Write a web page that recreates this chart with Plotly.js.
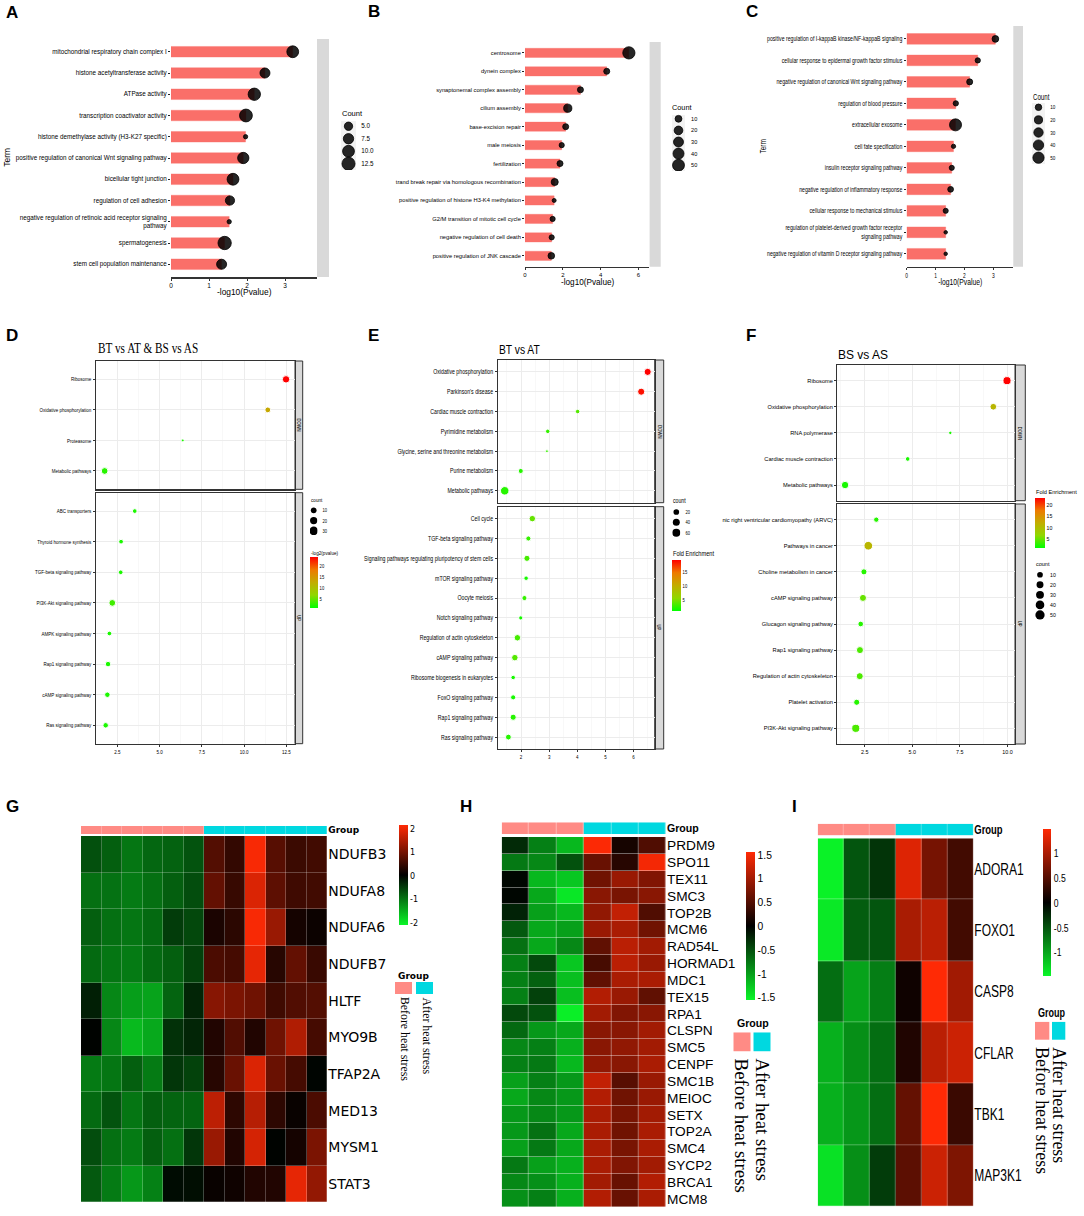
<!DOCTYPE html>
<html>
<head>
<meta charset="utf-8">
<script src="https://cdn.plot.ly/plotly-3.0.1.min.js"></script>
<style>body { margin: 0; background: #fff; }</style>
</head>
<body>
<div id="chart" style="width:1084px;height:1216px"></div>
<script>
// A: GO terms
const termsA = ['mitochondrial respiratory chain complex I', 'histone acetyltransferase activity', 'ATPase activity', 'transcription coactivator activity', 'histone demethylase activity (H3-K27 specific)', 'positive regulation of canonical Wnt signaling pathway', 'bicellular tight junction', 'regulation of cell adhesion', 'negative regulation of retinoic acid receptor signaling<br>pathway', 'spermatogenesis', 'stem cell population maintenance']
const pvalA = [3.2, 2.47, 2.19, 1.97, 1.96, 1.9, 1.63, 1.55, 1.53, 1.41, 1.33]
const countA = [10, 7, 11, 12, 3, 9, 10, 6, 3, 13, 7]
const legendA = [5, 7.5, 10, 12.5]

// B
const termsB = ['centrosome', 'dynein complex', 'synaptonemal complex assembly', 'cilium assembly', 'base-excision repair', 'male meiosis', 'fertilization', 'trand break repair via homologous recombination', 'positive regulation of histone H3-K4 methylation', 'G2/M transition of mitotic cell cycle', 'negative regulation of cell death', 'positive regulation of JNK cascade']
const pvalB = [5.49, 4.32, 2.93, 2.26, 2.15, 1.94, 1.85, 1.57, 1.54, 1.46, 1.41, 1.39]
const countB = [54, 7, 7, 17, 7, 5, 7, 11, 4, 5, 5, 9]
const legendB = [10, 20, 30, 40, 50]

// C
const termsC = ['positive regulation of I-kappaB kinase/NF-kappaB signaling', 'cellular response to epidermal growth factor stimulus', 'negative regulation of canonical Wnt signaling pathway', 'regulation of blood pressure', 'extracellular exosome', 'cell fate specification', 'insulin receptor signaling pathway', 'negative regulation of inflammatory response', 'cellular response to mechanical stimulus', 'regulation of platelet-derived growth factor receptor<br>signaling pathway', 'negative regulation of vitamin D receptor signaling pathway']
const pvalC = [3.07, 2.46, 2.18, 1.7, 1.69, 1.62, 1.56, 1.52, 1.35, 1.35, 1.35]
const countC = [11, 5.5, 8, 5.5, 60, 3.5, 5, 7, 5, 3, 3]
const legendC = [10, 20, 30, 40, 50]

// D: KEGG dot plots
const downTermsD = ['Ribosome', 'Oxidative phosphorylation', 'Proteasome', 'Metabolic pathways']
const downXD = [12.48, 11.4, 6.37, 1.75]
const downCountD = [21, 10.5, 3, 16]
const downColorD = [24, 13, 2, 2.5]
const upTermsD = ['ABC transporters', 'Thyroid hormone synthesis', 'TGF-beta signaling pathway', 'PI3K-Akt signaling pathway', 'AMPK signaling pathway', 'Rap1 signaling pathway', 'cAMP signaling pathway', 'Ras signaling pathway']
const upXD = [3.53, 2.72, 2.7, 2.2, 2.03, 1.95, 1.91, 1.81]
const upCountD = [6, 6, 6, 16, 6, 9, 9, 9]
const upColorD = [2, 2, 2, 3.5, 2, 2, 2, 2]
const legendD = [10, 20, 30]

// E
const downTermsE = ['Oxidative phosphorylation', "Parkinson's disease", 'Cardiac muscle contraction', 'Pyrimidine metabolism', 'Glycine, serine and threonine metabolism', 'Purine metabolism', 'Metabolic pathways']
const downXE = [6.5, 6.27, 4.01, 2.95, 2.92, 1.99, 1.42]
const downCountE = [42, 42, 9, 9, 3, 14, 70]
const downColorE = [19.6, 19, 4, 3, 3, 2.5, 2.5]
const upTermsE = ['Cell cycle', 'TGF-beta signaling pathway', 'Signaling pathways regulating pluripotency of stem cells', 'mTOR signaling pathway', 'Oocyte meiosis', 'Notch signaling pathway', 'Regulation of actin cytoskeleton', 'cAMP signaling pathway', 'Ribosome biogenesis in eukaryotes', 'FoxO signaling pathway', 'Rap1 signaling pathway', 'Ras signaling pathway']
const upXE = [2.4, 2.26, 2.21, 2.18, 2.12, 1.99, 1.87, 1.78, 1.72, 1.72, 1.72, 1.55]
const upCountE = [31, 14, 26, 9, 14, 7, 31, 31, 9, 14, 26, 22]
const upColorE = [4.5, 3, 3.5, 2, 3, 2, 3.5, 4, 2, 2, 2.5, 2.5]
const legendE = [20, 40, 60]

// F
const downTermsF = ['Ribosome', 'Oxidative phosphorylation', 'RNA polymerase', 'Cardiac muscle contraction', 'Metabolic pathways']
const downXF = [9.98, 9.26, 7, 4.76, 1.47]
const downCountF = [33, 18, 3, 5, 25]
const downColorF = [23, 11, 2, 2, 2]
const upTermsF = ['nic right ventricular cardiomyopathy (ARVC)', 'Pathways in cancer', 'Choline metabolism in cancer', 'cAMP signaling pathway', 'Glucagon signaling pathway', 'Rap1 signaling pathway', 'Regulation of actin cytoskeleton', 'Platelet activation', 'PI3K-Akt signaling pathway']
const upXF = [3.11, 2.69, 2.46, 2.41, 2.29, 2.25, 2.24, 2.08, 2.03]
const upCountF = [8, 41, 13, 21, 10, 21, 21, 13, 33]
const upColorF = [2.5, 11, 2.5, 5, 2.5, 4, 4, 2.5, 4]
const legendF = [10, 20, 30, 40, 50]

// G-I: heatmaps
const genesG = ['NDUFB3', 'NDUFA8', 'NDUFA6', 'NDUFB7', 'HLTF', 'MYO9B', 'TFAP2A', 'MED13', 'MYSM1', 'STAT3']
const groupG = [0, 0, 0, 0, 0, 0, 1, 1, 1, 1, 1, 1]
const heatG = [
    [-.67, -.8, -1, -.87, -.83, -.7, .72, .45, 2.1, .75, .52, .57],
    [-.95, -.97, -1.05, -.95, -.8, -.65, .85, .48, 1.85, .8, .55, .57],
    [-.8, -.95, -1, -.9, -.5, -.6, .25, .38, 2.1, 1.3, .2, .12],
    [-.9, -1, -1.05, -.9, -.8, -.55, .65, .6, 1.95, .35, .85, .5],
    [-.25, -1.15, -1.35, -1.4, -.85, -.3, 1.15, 1.05, .95, .55, .7, .72],
    [0, -1.15, -1.6, -1.45, -.4, -.3, .3, .7, .3, .95, 1.5, .6],
    [-1.05, -1, -.8, -1.05, -.45, -.55, .35, .9, 1.85, .9, .6, -.02],
    [-.9, -.7, -1, -.8, -.85, -.85, 1.6, .4, 1.55, .4, .1, .65],
    [-.65, -.95, -1.05, -.8, -.95, -.45, 1.3, .3, 1.8, 0, .2, 1.05],
    [-.75, -1.05, -1.3, -1.1, -.08, -.1, .1, .15, .3, .3, 1.95, 1.25]
]
const genesH = ['PRDM9', 'SPO11', 'TEX11', 'SMC3', 'TOP2B', 'MCM6', 'RAD54L', 'HORMAD1', 'MDC1', 'TEX15', 'RPA1', 'CLSPN', 'SMC5', 'CENPF', 'SMC1B', 'MEIOC', 'SETX', 'TOP2A', 'SMC4', 'SYCP2', 'BRCA1', 'MCM8']
const groupH = [0, 0, 0, 1, 1, 1]
const heatH = [
    [-.25, -.8, -1.15, 1.55, .15, .5],
    [-.75, -.85, -.5, .65, .25, 1.5],
    [-.03, -1.15, -1.25, .7, .95, .8],
    [-.02, -1.05, -1.45, .85, .75, .85],
    [-.2, -1, -1.15, .9, 1.2, .5],
    [-.55, -1.05, -1, .95, 1.05, .7],
    [-.7, -1.05, -.85, .6, 1.15, 1],
    [-.8, -.45, -1.25, .45, 1.15, .95],
    [-.8, -.6, -1.2, .6, 1.05, 1.05],
    [-.8, -.4, -1.2, 1.1, .95, .6],
    [-.45, -.5, -1.5, 1, .8, .85],
    [-.65, -.95, -1.05, .85, .85, 1],
    [-.85, -.8, -1.1, .85, .9, 1],
    [-.8, -.75, -1.15, .9, .85, 1.05],
    [-1, -.8, -.95, 1.2, .55, .95],
    [-1.05, -.85, -.95, 1.1, .7, .95],
    [-.95, -.85, -.95, 1.05, .75, 1],
    [-.95, -.7, -1.05, 1.05, .7, 1.05],
    [-1, -.75, -1.05, 1.05, .75, 1.05],
    [-.75, -1, -1.1, 1.05, .8, 1],
    [-.85, -.9, -1.1, 1, .65, 1.1],
    [-.9, -.8, -1.1, 1.1, .65, 1.05]
]
const genesI = ['ADORA1', 'FOXO1', 'CASP8', 'CFLAR', 'TBK1', 'MAP3K1']
const groupI = [0, 0, 0, 1, 1, 1]
const heatI = [
    [-1.45, -.5, -.3, 1.3, .7, .4],
    [-1.4, -.55, -.5, 1, 1.1, .4],
    [-.65, -.97, -.75, .1, 1.5, .95],
    [-1.05, -.85, -.65, .2, 1.1, 1.2],
    [-1.05, -.9, -.65, .6, 1.5, .35],
    [-1.35, -.85, -.35, .55, 1.2, .75]
]

const W = 1084, H = 1216
const SANS = '"Liberation Sans", Arial, sans-serif'
// no narrow face is installed: "Squeezed" is only a tag, squeezeText() below condenses these labels
const NARROW = '"Squeezed", "Liberation Sans", sans-serif'
const NARROW_SERIF = '"Squeezed", "Liberation Serif", serif'
const SERIF = '"Liberation Serif", "Times New Roman", serif'
const TEXT = '#000'
const GREEN_RED = [[0, '#00ff00'], [.25, '#8fd800'], [.5, '#c2ad00'], [.75, '#ee7a00'], [1, '#ff0000']]
const HEAT_SCALE = [[0, 'rgb(10,245,40)'], [.5, 'rgb(0,0,0)'], [1, 'rgb(255,42,5)']]
const GROUP_SCALE = [[0, '#ff8b85'], [1, '#00d8e0']]

let data = []
let layout = {
    width: W, height: H, autosize: false, showlegend: false,
    margin: { l: 0, r: 0, t: 0, b: 0, pad: 0 },
    paper_bgcolor: '#fff', plot_bgcolor: 'rgba(0,0,0,0)',
    annotations: [], shapes: []
}
let axisCount = 0

// allocates a subplot at a pixel box, returns its axis refs
function subplot(x0, x1, y0, y1, xa, ya) {
    axisCount++
    const n = axisCount === 1 ? '' : axisCount
    layout['xaxis' + n] = Object.assign({ domain: [x0 / W, x1 / W], anchor: 'y' + n, fixedrange: true, zeroline: false, showgrid: false }, xa)
    layout['yaxis' + n] = Object.assign({ domain: [1 - y1 / H, 1 - y0 / H], anchor: 'x' + n, fixedrange: true, zeroline: false, showgrid: false }, ya)
    return { xaxis: 'x' + n, yaxis: 'y' + n }
}

function txt(x, y, text, o) {
    // left aligned squeezed annotations need their start restored after squeezing
    let family = o.family || SANS
    if (family.includes('Squeezed') && !(o.extra && o.extra.xanchor)) family = family.replace('"Squeezed"', '"Squeezed Left"')
    layout.annotations.push(Object.assign({
        x: x / W, y: 1 - y / H, xref: 'paper', yref: 'paper', text: text, showarrow: false,
        xanchor: 'left', yanchor: 'middle', borderpad: 0,
        font: { family: family, size: o.size, color: o.color || TEXT }
    }, o.extra || {}))
}

function rect(x0, x1, y0, y1, fill, line) {
    layout.shapes.push({
        type: 'rect', xref: 'paper', yref: 'paper', layer: 'below',
        x0: x0 / W, x1: x1 / W, y0: 1 - y1 / H, y1: 1 - y0 / H,
        fillcolor: fill, line: line ? { color: line, width: 1 } : { width: 0 }
    })
}

// ggplot style area scale for the point sizes
function sizer(cmin, cmax, dmin, dmax) {
    return c => dmin + (dmax - dmin) * Math.sqrt(Math.max(0, c - cmin) / (cmax - cmin))
}

function sizeLegend(p, values, scale, fmt) {
    const ax = subplot(p.x0, p.x1, p.y0, p.y1,
        { range: [0, 1], visible: false },
        {
            type: 'category', side: 'right', range: [values.length - .5, -.5], ticks: 'outside', ticklen: p.gap, tickcolor: 'rgba(0,0,0,0)',
            categoryorder: 'array', categoryarray: values.map(fmt),
            tickfont: { family: p.family || SANS, size: p.size, color: TEXT }
        })
    data.push(Object.assign({
        type: 'scatter', mode: 'markers', x: values.map(() => .5), y: values.map(fmt),
        marker: { opacity: 1, size: values.map(scale), color: p.color || 'rgba(0,0,0,.85)', line: { color: '#000', width: p.line === undefined ? .8 : p.line } },
        hoverinfo: 'skip'
    }, ax))
}

function barPanel(p) {
    const ax = subplot(p.x0, p.x1, p.y0, p.y1,
        {
            range: p.range, showline: true, linecolor: '#333', linewidth: 1.5, ticks: 'outside', ticklen: 2, tickcolor: '#333', dtick: p.dtick,
            tickfont: { family: p.family, size: p.xsize, color: TEXT }
        },
        {
            type: 'category', range: [p.terms.length - 1 + p.pad, -p.pad], ticks: 'outside', ticklen: 2, tickcolor: '#222',
            categoryorder: 'array', categoryarray: p.terms,
            tickfont: { family: p.family, size: p.ysize, color: TEXT }
        })
    data.push(Object.assign({
        type: 'bar', orientation: 'h', x: p.pval, y: p.terms, width: .5,
        marker: { color: '#fa6f69', line: { color: 'rgba(250,111,105,.35)', width: 1 } }, hoverinfo: 'skip'
    }, ax))
    data.push(Object.assign({
        type: 'scatter', mode: 'markers', x: p.pval, y: p.terms, cliponaxis: false,
        marker: { opacity: 1, size: p.count.map(p.scale), color: 'rgba(0,0,0,.85)', line: { color: '#000', width: .8 } }, hoverinfo: 'skip'
    }, ax))
    rect(p.x1 + .3, p.stripEnd, p.y0, p.y1, '#d9d9d9')
}

function facet(p, y0, y1, terms, xv, counts, colors, strip, isBottom, scale, bar) {
    const ax = subplot(p.x0, p.x1, y0, y1,
        {
            range: p.range, showline: true, mirror: true, linecolor: '#333', linewidth: 1.2,
            showgrid: true, gridcolor: '#ececec', gridwidth: 1,
            tick0: p.tick0, dtick: p.dtick, tickformat: p.fmt,
            minor: { dtick: p.dtick / 2, tick0: 0, showgrid: true, gridcolor: '#f4f4f4', gridwidth: .6, ticks: '' },
            ticks: isBottom ? 'outside' : '', ticklen: 2, tickcolor: '#333', showticklabels: isBottom,
            tickfont: { family: p.family, size: p.xsize, color: TEXT }
        },
        {
            type: 'category', range: [terms.length - 1 + p.pad, -p.pad],
            showgrid: true, gridcolor: '#ececec', gridwidth: 1,
            showline: true, mirror: true, linecolor: '#333', linewidth: 1.2,
            ticks: 'outside', ticklen: 2, tickcolor: '#333', categoryorder: 'array', categoryarray: terms,
            tickfont: { family: p.family, size: p.ysize, color: TEXT }
        })
    data.push(Object.assign({
        type: 'scatter', mode: 'markers', x: xv, y: terms, cliponaxis: false, hoverinfo: 'skip',
        marker: {
            opacity: 1, size: counts.map(scale), color: colors, cmin: p.cmin, cmax: p.cmax, colorscale: GREEN_RED,
            showscale: !!bar, colorbar: bar
        }
    }, ax))
    rect(p.x1, p.stripEnd, y0, y1, '#d9d9d9', '#333')
    txt((p.x1 + p.stripEnd) / 2, (y0 + y1) / 2, strip, { size: 5.5, family: NARROW, extra: { textangle: 90, xanchor: 'center' } })
}

function colorbar(x0, x1, y0, y1, vals, size, family, text) {
    return {
        x: x0 / W, xref: 'paper', xanchor: 'left', y: 1 - y0 / H, yref: 'paper', yanchor: 'top',
        len: y1 - y0, lenmode: 'pixels', thickness: x1 - x0, thicknessmode: 'pixels',
        xpad: 0, ypad: 0, outlinewidth: 0, ticks: '', tickmode: 'array', tickvals: vals, ticktext: text || vals.map(String),
        tickfont: { family: family, size: size, color: TEXT }
    }
}

function heatPanel(p) {
    const cols = p.heat[0].map((_, i) => i)
    let ax = subplot(p.x0, p.x1, p.y0, p.y1,
        { visible: false, range: [-.5, cols.length - .5] },
        {
            type: 'category', side: 'right', range: [p.genes.length - .5, -.5], ticks: '', categoryorder: 'array', categoryarray: p.genes,
            showline: false, tickfont: { family: p.family, size: p.size, color: TEXT }
        })
    data.push(Object.assign({
        type: 'heatmap', x: cols, y: p.genes, z: p.heat, zmin: p.zmin, zmax: p.zmax, colorscale: HEAT_SCALE, xgap: p.gap, ygap: p.gap,
        colorbar: colorbar(p.cb[0], p.cb[1], p.cb[2], p.cb[3], p.ticks, p.cbSize, p.cbFamily), hoverinfo: 'skip'
    }, ax))
    ax = subplot(p.x0, p.x1, p.gy0, p.gy1,
        { visible: false, range: [-.5, cols.length - .5] },
        {
            type: 'category', side: 'right', ticks: '',
            tickfont: { family: p.groupFamily, size: p.groupSize, color: '#000' }
        })
    data.push(Object.assign({
        type: 'heatmap', x: cols, y: ['<b>Group</b>'], z: [p.group], zmin: 0, zmax: 1, colorscale: GROUP_SCALE, showscale: false, xgap: p.gap, hoverinfo: 'skip'
    }, ax))
    // legend swatches, gap sits on both sides of each cell
    const g = p.sw[2]
    ax = subplot(p.sw[0] - g / 2, p.sw[1] + g / 2, p.sw[3], p.sw[4],
        { visible: false, range: [-.5, 1.5] }, { visible: false, range: [-.5, .5] })
    data.push(Object.assign({
        type: 'heatmap', x: [0, 1], y: [0], z: [[0, 1]], zmin: 0, zmax: 1, colorscale: GROUP_SCALE, showscale: false, xgap: g, hoverinfo: 'skip'
    }, ax))
    txt(p.lg[0], p.lg[1], '<b>Group</b>', { size: p.lgSize, family: p.groupFamily })
    txt(p.rot[0], p.rot[2], 'Before heat stress', { size: p.rot[4], family: SERIF, color: '#000', extra: { textangle: 90, xanchor: 'center' } })
    txt(p.rot[1], p.rot[3], 'After heat stress', { size: p.rot[4], family: SERIF, color: '#000', extra: { textangle: 90, xanchor: 'center' } })
}

// --- top row ---
const scaleA = sizer(3, 13, 4.3, 13.3)
barPanel({ x0: 171, x1: 316.7, y0: 39, y1: 277, stripEnd: 329, range: [0, 3.83], dtick: 1, pad: .6, terms: termsA, pval: pvalA, count: countA, scale: scaleA, family: SANS, xsize: 6.5, ysize: 6.3 })
rect(341, 356, 121, 170, '#f2f2f2')
sizeLegend({ x0: 341, x1: 356, y0: 120, y1: 170, size: 6.3, gap: 3 }, legendA, scaleA, v => v.toFixed(1))
txt(340.7, 113.7, 'Count', { size: 7.5 })
txt(244, 292, '-log10(Pvalue)', { size: 8.4, extra: { xanchor: 'center' } })
txt(7, 157.7, 'Term', { size: 8.4, extra: { textangle: -90, xanchor: 'center' } })

const scaleB = sizer(4, 55, 4, 12.3)
barPanel({ x0: 525, x1: 649.3, y0: 42, y1: 266.7, stripEnd: 660.7, range: [0, 6.57], dtick: 2, pad: .59, terms: termsB, pval: pvalB, count: countB, scale: scaleB, family: SANS, xsize: 6, ysize: 5.75 })
rect(672, 685, 115, 171, '#f2f2f2')
sizeLegend({ x0: 672, x1: 685, y0: 113, y1: 171, size: 5.6, gap: 4 }, legendB, scaleB, v => String(v))
txt(671, 107.7, 'Count', { size: 7.3 })
txt(588, 282, '-log10(Pvalue)', { size: 8.2, extra: { xanchor: 'center' } })

const scaleC = sizer(3, 60, 3.5, 12)
barPanel({ x0: 906.7, x1: 1013, y0: 26, y1: 266.7, stripEnd: 1023, range: [0, 3.68], dtick: 1, pad: .6, terms: termsC, pval: pvalC, count: countC, scale: scaleC, family: NARROW, xsize: 6.5, ysize: 6.9 })
rect(1032, 1045, 103, 164, '#f2f2f2')
sizeLegend({ x0: 1032, x1: 1045, y0: 101, y1: 164, size: 6.1, gap: 3, family: NARROW }, legendC, scaleC, v => String(v))
txt(1032, 97, 'Count', { size: 8.2, family: NARROW })
txt(960, 282.5, '-log10(Pvalue)', { size: 9, family: NARROW, extra: { xanchor: 'center' } })
txt(762.3, 146.7, 'Term', { size: 8.7, family: NARROW, extra: { textangle: -90, xanchor: 'center' } })

// --- dot plots ---
const scaleD = sizer(3, 33, 2.8, 8.8)
const pD = { x0: 95.7, x1: 295, stripEnd: 302.7, range: [1.22, 13.01], tick0: 2.5, dtick: 2.5, fmt: '.1f', pad: .6, family: NARROW, xsize: 6, ysize: 6, cmin: .9, cmax: 24 }
facet(pD, 361, 489.3, downTermsD, downXD, downCountD, downColorD, 'DOWN', false, scaleD, colorbar(310, 318, 557.3, 608.3, [5, 10, 15, 20], 5.5, NARROW))
facet(pD, 492.7, 743.7, upTermsD, upXD, upCountD, upColorD, 'UP', true, scaleD)
sizeLegend({ x0: 310, x1: 317.4, y0: 505.2, y1: 536, size: 5.5, gap: 3, family: NARROW, color: '#000', line: 0 }, legendD, scaleD, v => String(v))
txt(310, 500, 'count', { size: 6.2, family: NARROW })
txt(310, 552, '-log2(pvalue)', { size: 6.2, family: NARROW })
txt(97, 347.7, 'BT vs AT &amp; BS vs AS', { size: 15, family: NARROW_SERIF, color: '#000' })

const scaleE = sizer(3, 70, 2.8, 8.5)
const pE = { x0: 497.7, x1: 654.7, stripEnd: 663.7, range: [1.17, 6.75], tick0: 2, dtick: 1, fmt: 'd', pad: .6, family: NARROW, xsize: 6, ysize: 6.95, cmin: 1.3, cmax: 19.6 }
facet(pE, 360, 502.7, downTermsE, downXE, downCountE, downColorE, 'DOWN', false, scaleE, colorbar(672.3, 681, 559.7, 611, [5, 10, 15], 5.5, NARROW))
facet(pE, 506.7, 749, upTermsE, upXE, upCountE, upColorE, 'UP', true, scaleE)
sizeLegend({ x0: 672.3, x1: 680.3, y0: 506.8, y1: 537.9, size: 5.5, gap: 3, family: NARROW, color: '#000', line: 0 }, legendE, scaleE, v => String(v))
txt(672, 501, 'count', { size: 6.9, family: NARROW })
txt(672, 553.7, 'Fold Enrichment', { size: 7.5, family: NARROW })
txt(497.7, 350, 'BT vs AT', { size: 13.7, family: NARROW })

const scaleF = sizer(3, 55, 3.4, 9.6)
const pF = { x0: 837.3, x1: 1015, stripEnd: 1025.3, range: [1.06, 10.4], tick0: 2.5, dtick: 2.5, fmt: '.1f', pad: .6, family: SANS, xsize: 5.4, ysize: 5.7, cmin: 1.07, cmax: 23.06 }
facet(pF, 365, 500.7, downTermsF, downXF, downCountF, downColorF, 'DOWN', false, scaleF, colorbar(1035, 1045, 498, 548.3, [5, 10, 15, 20], 5.2, SANS))
facet(pF, 504, 744, upTermsF, upXF, upCountF, upColorF, 'UP', true, scaleF)
sizeLegend({ x0: 1035, x1: 1045, y0: 569.7, y1: 620, size: 5.2, gap: 3, color: '#000', line: 0 }, legendF, scaleF, v => String(v))
txt(1035, 564, 'count', { size: 5.5 })
txt(1035, 492.3, 'Fold Enrichment', { size: 5.6 })
txt(837.3, 355, 'BS vs AS', { size: 12 })

// --- heatmaps ---
heatPanel({
    x0: 81, x1: 327.3, y0: 836, y1: 1202.3, gy0: 826, gy1: 834, genes: genesG, heat: heatG, group: groupG,
    zmin: -2.11, zmax: 2.157, ticks: [-2, -1, 0, 1, 2], cb: [399, 408, 825.3, 925], cbSize: 8, cbFamily: '"DejaVu Sans", sans-serif',
    family: '"DejaVu Sans", sans-serif', size: 14, groupFamily: '"DejaVu Sans", sans-serif', groupSize: 9, gap: .25,
    sw: [395, 433, 4, 982, 994], lg: [397, 976], lgSize: 9, rot: [405, 427, 1039, 1035.5, 11.8]
})
heatPanel({
    x0: 501.7, x1: 666, y0: 837, y1: 1207.3, gy0: 822.3, gy1: 834, genes: genesH, heat: heatH, group: groupH,
    zmin: -1.54, zmax: 1.57, ticks: [-1.5, -1, -.5, 0, .5, 1, 1.5], cb: [746, 754.7, 851.7, 999.3], cbSize: 10.3, cbFamily: SANS,
    family: SANS, size: 13.7, groupFamily: SANS, groupSize: 10.6, gap: .4,
    sw: [734, 770.7, 3, 1032.3, 1051.7], lg: [735.7, 1023], lgSize: 10.6, rot: [741.7, 762.7, 1125.3, 1120, 18.9]
})
heatPanel({
    x0: 817.7, x1: 973.3, y0: 838.3, y1: 1206.3, gy0: 823.7, gy1: 835.3, genes: genesI, heat: heatI, group: groupI,
    zmin: -1.47, zmax: 1.5, ticks: [-1, -.5, 0, .5, 1], cb: [1043, 1050.7, 828.7, 975.7], cbSize: 11.5, cbFamily: NARROW,
    family: NARROW, size: 16, groupFamily: NARROW, groupSize: 12.6, gap: .3,
    sw: [1035.3, 1066, 2.7, 1021.7, 1040], lg: [1036.7, 1012.7], lgSize: 12, rot: [1041.3, 1059, 1110.3, 1105, 17.9]
})

// panel letters
const letters = [['A', 5, 12.5], ['B', 366.7, 12], ['C', 745, 11], ['D', 5, 335], ['E', 367, 335], ['F', 745, 335], ['G', 5, 806], ['H', 459, 806], ['I', 790.7, 806]]
letters.forEach(l => txt(l[1], l[2], '<b>' + l[0] + '</b>', { size: 17, color: '#000' }))

// condense every label tagged with the Squeezed family, the source figure was stretched
function squeezeText(factor) {
    const gd = document.getElementById('chart')
    gd.querySelectorAll('svg text').forEach(t => {
        const family = t.style.fontFamily
        if (!family.includes('Squeezed')) return
        const lines = t.querySelectorAll('tspan.line')
        const parts = lines.length ? Array.from(lines) : [t]
        parts.forEach(el => {
            const w = el.getComputedTextLength()
            el.setAttribute('textLength', w * factor)
            el.setAttribute('lengthAdjust', 'spacingAndGlyphs')
            if (family.includes('Squeezed Left')) el.setAttribute('x', parseFloat(el.getAttribute('x')) - w * (1 - factor) / 2)
        })
    })
}

Plotly.newPlot('chart', data, layout, { displayModeBar: false, staticPlot: true }).then(() => squeezeText(.75))
</script>
</body>
</html>
